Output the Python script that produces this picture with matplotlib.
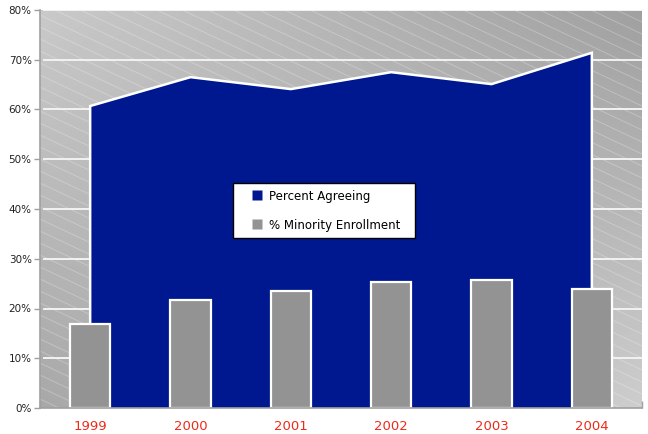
"""Percent agreeing vs % minority enrollment, 1999-2004."""
import matplotlib
matplotlib.use("Agg")
import matplotlib.pyplot as plt
import numpy as np
from matplotlib.lines import Line2D

YEARS = ["1999", "2000", "2001", "2002", "2003", "2004"]
PERCENT_AGREEING = [60.7, 66.5, 64.1, 67.5, 65.1, 71.4]
MINORITY_ENROLLMENT = [16.9, 21.8, 23.5, 25.3, 25.8, 23.9]

NAVY = "#00188f"
BAR_GRAY = "#939393"
AXIS_GRAY = "#a0a0a0"


def main() -> None:
    fig = plt.figure(figsize=(6.48, 4.34), dpi=100)
    ax = fig.add_axes([40 / 648, 26 / 434, 602 / 648, 398 / 434])

    x = np.arange(len(YEARS))
    ax.set_xlim(-0.5, len(YEARS) - 0.5)
    ax.set_ylim(0, 80)

    # background: bilinear gray gradient between the four corners
    u = np.linspace(0, 1, 200)
    v = np.linspace(0, 1, 200)
    U, V = np.meshgrid(u, v)  # V=0 at top
    tl, tr, bl, br = 201, 160, 168, 205
    g = (tl * (1 - U) * (1 - V) + tr * U * (1 - V)
         + bl * (1 - U) * V + br * U * V) / 255.0
    ax.imshow(g, cmap="gray", vmin=0, vmax=1, aspect="auto",
              extent=(0, 1, 0, 1), transform=ax.transAxes, zorder=0,
              interpolation="bilinear")

    # faint diagonal stripes (pixel slope ~0.47, ~12 px apart)
    w_px, h_px = 602.0, 398.0
    slope = 0.47
    for off in np.arange(-slope * w_px, h_px + 12, 12):
        xs = np.array([0.0, 1.0])
        ys_px = h_px - (off + slope * xs * w_px)
        ax.plot(xs, ys_px / h_px, transform=ax.transAxes, color="white",
                lw=0.7, alpha=0.25, zorder=0.5, clip_on=True)

    # gridlines
    for yv in range(10, 81, 10):
        ax.axhline(yv, xmin=0.006, xmax=1, color="#f2f2f2", lw=1.4, zorder=1)

    # area
    xs_poly = np.concatenate([[x[0]], x, [x[-1]]])
    ys_poly = np.concatenate([[0], PERCENT_AGREEING, [0]])
    ax.fill(xs_poly, ys_poly, facecolor=NAVY, edgecolor="none", zorder=2)
    ax.plot(xs_poly, ys_poly, color="white", lw=1.8, zorder=2.1,
            solid_joinstyle="miter")

    # bars
    ax.bar(x, MINORITY_ENROLLMENT, width=0.4, color=BAR_GRAY,
           edgecolor="white", linewidth=1.6, zorder=3)

    # axes styling
    for side in ("top", "right"):
        ax.spines[side].set_visible(False)
    for side in ("left", "bottom"):
        ax.spines[side].set_color(AXIS_GRAY)
        ax.spines[side].set_linewidth(1.2)
        ax.spines[side].set_zorder(4)

    ax.set_yticks(range(0, 81, 10))
    ax.set_yticklabels([f"{v}%" for v in range(0, 81, 10)],
                       fontsize=7.5, color="#222222")
    ax.tick_params(axis="y", length=4, color=AXIS_GRAY, width=1, pad=2)

    ax.set_xticks(x)
    ax.set_xticklabels(YEARS, fontsize=9.5, color="#ee2a1a")
    ax.tick_params(axis="x", which="major", length=0, pad=9)
    ax.set_xticks(np.arange(-0.5, len(YEARS)), minor=True)
    ax.tick_params(axis="x", which="minor", length=5, color=AXIS_GRAY,
                   width=1, direction="in")

    handles = [Line2D([], [], marker="s", linestyle="none", markersize=7.5,
                      markerfacecolor=NAVY, markeredgecolor="none"),
               Line2D([], [], marker="s", linestyle="none", markersize=7.5,
                      markerfacecolor=BAR_GRAY, markeredgecolor="none")]
    leg = ax.legend(handles, ["Percent Agreeing", "% Minority Enrollment"],
                    loc="upper left", bbox_to_anchor=(0.32, 0.427, 0.303, 0.138),
                    mode="expand", fontsize=8.5, frameon=True, fancybox=False,
                    framealpha=1, handlelength=3.0, handletextpad=-0.5,
                    labelspacing=1.35, borderpad=0.55, borderaxespad=0)
    leg.get_frame().set_edgecolor("black")
    leg.get_frame().set_facecolor("white")
    leg.get_frame().set_linewidth(1.0)
    leg.set_zorder(5)

    fig.savefig("out.png", dpi=100)


if __name__ == "__main__":
    main()
